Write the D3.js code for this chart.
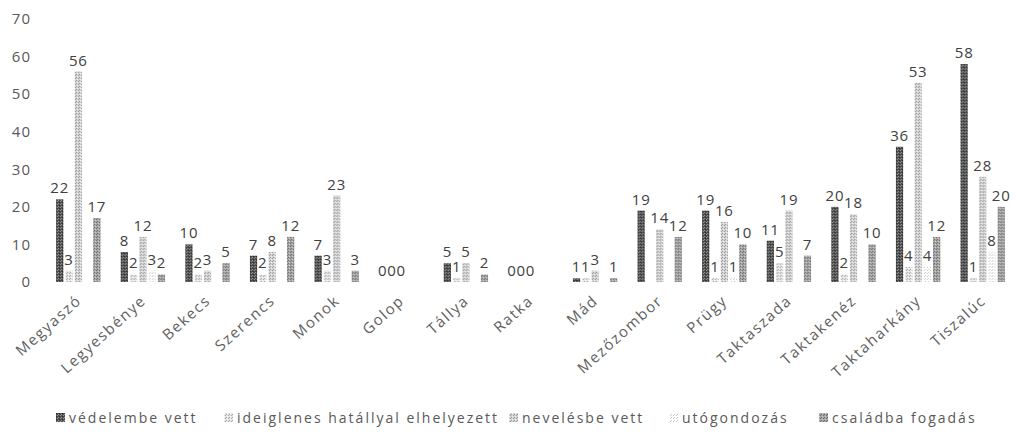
<!DOCTYPE html>
<html>
<head>
<meta charset="utf-8">
<script src="https://cdn.jsdelivr.net/npm/d3@7"></script>
<style>
  body { margin: 0; background: #fff; }
  text { font-family: "Open Sans", sans-serif; }
</style>
</head>
<body>
<script>

// Data
var categories = ["Megyaszó", "Legyesbénye", "Bekecs", "Szerencs", "Monok", "Golop", "Tállya", "Ratka",
                  "Mád", "Mezőzombor", "Prügy", "Taktaszada", "Taktakenéz", "Taktaharkány", "Tiszalúc"];
var seriesNames = ["védelembe vett", "ideiglenes hatállyal elhelyezett", "nevelésbe vett", "utógondozás", "családba fogadás"];

var vedelembe   = [22, 8, 10, 7, 7, 0, 5, 0, 1, 19, 19, 11, 20, 36, 58];
var ideiglenes  = [3, 2, 2, 2, 3, 0, 1, 0, 1, null, 1, 5, 2, 4, 1];
var nevelesbe   = [56, 12, 3, 8, 23, 0, 5, 0, 3, 14, 16, 19, 18, 53, 28];
var utogondozas = [null, 3, null, null, null, null, null, null, null, null, 1, null, null, 4, 8];
var csaladba    = [17, 2, 5, 12, 3, null, 2, null, 1, 12, 10, 7, 10, 12, 20];
var yTicks = [0, 10, 20, 30, 40, 50, 60, 70];

var allSeries = [vedelembe, ideiglenes, nevelesbe, utogondozas, csaladba];

var width = 1016, height = 435;

var svg = d3.select("body").append("svg")
    .attr("width", width)
    .attr("height", height);

// Grey dither patterns, one per series
var defs = svg.append("defs");
var patterns = [
  {base: "#4d4d4d", dot: "#999", dot2: "#2e2e2e"},
  {base: "#e4e4e4", dot: "#a8a8a8", dot2: "#fff"},
  {base: "#d4d4d4", dot: "#999", dot2: "#f4f4f4"},
  {base: "#fff", dot: "#c8c8c8", dot2: "#fff"},
  {base: "#a6a6a6", dot: "#6e6e6e", dot2: "#d0d0d0"}
];
patterns.forEach(function(p, i) {
  var pat = defs.append("pattern")
      .attr("id", "pat" + i)
      .attr("patternUnits", "userSpaceOnUse")
      .attr("width", 3).attr("height", 3);
  pat.append("rect").attr("width", 3).attr("height", 3).attr("fill", p.base);
  pat.append("rect").attr("x", 0).attr("y", 0).attr("width", 1).attr("height", 1).attr("fill", p.dot);
  pat.append("rect").attr("x", 2).attr("y", 1).attr("width", 1).attr("height", 1).attr("fill", p.dot2);
  pat.append("rect").attr("x", 1).attr("y", 2).attr("width", 1).attr("height", 1).attr("fill", p.dot);
});

// Scales
var x0 = d3.scaleBand()
    .domain(categories)
    .range([46, 1015])
    .paddingInner(0.25)
    .paddingOuter(0.125);

var x1 = d3.scaleBand()
    .domain(d3.range(seriesNames.length))
    .range([0, x0.bandwidth()])
    .padding(0.22);

var yScale = d3.scaleLinear()
    .domain([0, 70])
    .range([282, 19]);

// Y axis (labels only)
var yAxis = d3.axisLeft(yScale).tickValues(yTicks).tickSize(0).tickPadding(0);
svg.append("g")
    .attr("class", "y axis")
    .attr("transform", "translate(31,0)")
    .call(yAxis)
    .call(function(g) { g.select(".domain").remove(); })
    .selectAll("text")
    .attr("font-size", "15px")
    .attr("letter-spacing", "1px")
    .attr("font-family", "Open Sans, sans-serif")
    .attr("fill", "#595959");

// Bars
var groups = svg.append("g").selectAll(".group")
    .data(categories)
    .enter().append("g")
    .attr("class", "group")
    .attr("transform", function(d) { return "translate(" + x0(d) + ",0)"; });

var cells = groups.selectAll(".cell")
    .data(function(d, ci) {
      return allSeries.map(function(s, si) { return {s: si, v: s[ci]}; })
          .filter(function(e) { return e.v !== null; });
    })
    .enter();

cells.append("rect")
    .attr("x", function(d) { return x1(d.s); })
    .attr("y", function(d) { return yScale(d.v); })
    .attr("width", x1.bandwidth())
    .attr("height", function(d) { return yScale(0) - yScale(d.v); })
    .attr("fill", function(d) { return "url(#pat" + d.s + ")"; });

// Data labels
cells.append("text")
    .attr("x", function(d) { return x1(d.s) + x1.bandwidth() / 2; })
    .attr("y", function(d) { return yScale(d.v) - 6; })
    .attr("text-anchor", "middle")
    .attr("font-size", "15px")
    .attr("letter-spacing", "0.8px")
    .attr("fill", "#404040")
    .text(function(d) { return d.v; });

// Category labels
svg.append("g").selectAll(".cat")
    .data(categories)
    .enter().append("text")
    .attr("class", "cat")
    .attr("transform", function(d) {
      return "translate(" + (x0(d) + x0.bandwidth() / 2 + 4) + ",302) rotate(-42)";
    })
    .attr("text-anchor", "end")
    .attr("font-size", "15px")
    .attr("letter-spacing", "1.6px")
    .attr("fill", "#606060")
    .text(function(d) { return d; });

// Legend
var legendX = [60, 228, 513, 673, 823];
var legend = svg.append("g").selectAll(".legend")
    .data(seriesNames)
    .enter().append("g")
    .attr("class", "legend")
    .attr("transform", function(d, i) { return "translate(" + legendX[i] + ",418)"; });

legend.append("rect")
    .attr("x", -4).attr("y", -5)
    .attr("width", 9).attr("height", 9)
    .attr("fill", function(d, i) { return "url(#pat" + i + ")"; });

legend.append("text")
    .attr("x", 9)
    .attr("y", 5)
    .attr("font-size", "14px")
    .attr("letter-spacing", "2px")
    .attr("fill", "#595959")
    .text(function(d) { return d; });

</script>
</body>
</html>
